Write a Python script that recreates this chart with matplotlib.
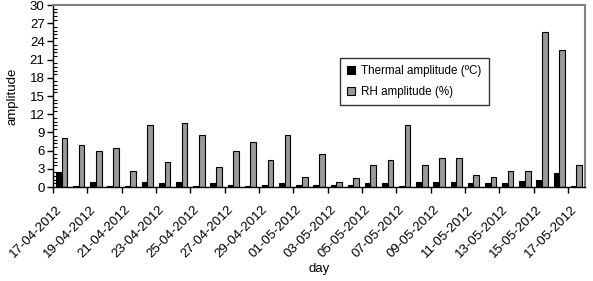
import matplotlib
matplotlib.use("Agg")
import matplotlib.pyplot as plt
import matplotlib.ticker as mticker
import matplotlib.transforms as mtransforms
import numpy as np

days = ["17-04-2012", "18-04-2012", "19-04-2012", "20-04-2012", "21-04-2012",
        "22-04-2012", "23-04-2012", "24-04-2012", "25-04-2012", "26-04-2012",
        "27-04-2012", "28-04-2012", "29-04-2012", "30-04-2012", "01-05-2012",
        "02-05-2012", "03-05-2012", "04-05-2012", "05-05-2012", "06-05-2012",
        "07-05-2012", "08-05-2012", "09-05-2012", "10-05-2012", "11-05-2012",
        "12-05-2012", "13-05-2012", "14-05-2012", "15-05-2012", "16-05-2012",
        "17-05-2012"]
thermal = [2.4, 0.2, 0.8, 0.2, 0.2, 0.8, 0.6, 0.8, 0.2, 0.6,
           0.35, 0.1, 0.35, 0.6, 0.35, 0.35, 0.35, 0.3, 0.6, 0.6,
           0.1, 0.8, 0.8, 0.8, 0.6, 0.6, 0.6, 1.0, 1.15, 2.25, 0.1]
rh = [8.1, 7.0, 6.0, 6.4, 2.6, 10.3, 4.05, 10.5, 8.5, 3.3,
      6.0, 7.35, 4.4, 8.5, 1.65, 5.5, 0.8, 1.5, 3.7, 4.4,
      10.2, 3.7, 4.8, 4.8, 1.9, 1.7, 2.6, 2.6, 25.5, 22.6, 3.7]

plt.rcParams["font.family"] = ["Liberation Sans", "DejaVu Sans"]

fig = plt.figure(figsize=(5.93, 2.81), dpi=100)
ax = fig.add_axes([0.0894, 0.3345, 0.8971, 0.6475])

x = np.arange(len(days))
w = 0.33
ax.bar(x - w / 2, thermal, width=w, color="black", edgecolor="black",
       linewidth=0.8, label="Thermal amplitude (ºC)")
ax.bar(x + w / 2, rh, width=w, color="#999999", edgecolor="black",
       linewidth=0.8, label="RH amplitude (%)")

ax.set_xlim(-0.5, len(days) - 0.5)
ax.set_ylim(0, 30)

# y ticks: major outward, minor inward
ax.yaxis.set_major_locator(mticker.MultipleLocator(3))
ax.yaxis.set_minor_locator(mticker.MultipleLocator(0.6))
ax.tick_params(axis="y", which="major", direction="out", length=4, width=1,
               labelsize=9.5, pad=2)
ax.tick_params(axis="y", which="minor", direction="in", length=3, width=0.8)

# x ticks: marks between every two categories, labels on category centres
ax.set_xticks(np.arange(-0.5, len(days) - 1, 2))
ax.set_xticklabels([])
ax.set_xticks(x[::2], minor=True)
ax.set_xticklabels(days[::2], minor=True, rotation=45, ha="right",
                   rotation_mode="anchor", fontsize=9.5)
ax.tick_params(axis="x", which="major", direction="out", length=4, width=1)
ax.tick_params(axis="x", which="minor", length=0, pad=12)
shift = mtransforms.ScaledTranslation(-6 / 100, 0, fig.dpi_scale_trans)
for lab in ax.get_xticklabels(minor=True):
    lab.set_transform(lab.get_transform() + shift)

for s in ["top", "right"]:
    ax.spines[s].set_color("#808080")
    ax.spines[s].set_linewidth(1.5)
for s in ["left", "bottom"]:
    ax.spines[s].set_color("black")
    ax.spines[s].set_linewidth(1)

ax.set_ylabel("amplitude", fontsize=9.5, labelpad=8.5)
ax.set_xlabel("day", fontsize=9.5)
ax.xaxis.set_label_coords(0.5, -0.415)

leg = ax.legend(loc="upper left", bbox_to_anchor=(0.54, 0.71), fontsize=8.4,
                frameon=True, fancybox=False, handlelength=0.7,
                handleheight=0.7, handletextpad=0.5, borderpad=0.6,
                labelspacing=0.8, borderaxespad=0)
leg.get_frame().set_edgecolor("black")
leg.get_frame().set_linewidth(1)

fig.savefig("out.png", dpi=100)
